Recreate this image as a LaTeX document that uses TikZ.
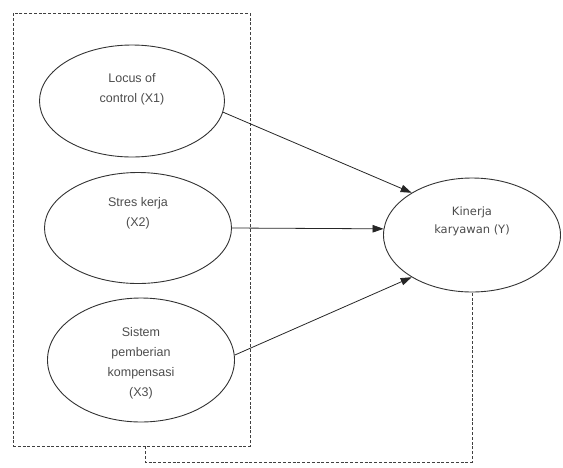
\documentclass[tikz,border=0pt]{standalone}
\usepackage{fontspec}
\setmainfont{Liberation Sans}
\newfontfamily\verd{DejaVu Sans}
\usetikzlibrary{positioning,arrows.meta,shapes.geometric}

\begin{document}
\begin{tikzpicture}[
  x=1pt, y=-1pt,
  var/.style={ellipse, draw=black!80, line width=0.9pt, inner sep=0pt},
  txt/.style={align=center, text=black!70, font=\fontsize{12.5}{20}\selectfont},
  link/.style={draw=black!85, line width=0.8pt, -{Triangle[length=11pt,width=7.5pt]}},
  grpbox/.style={draw=black!75, line width=0.8pt, dash pattern=on 3pt off 1.8pt},
  feedback/.style={draw=black!75, line width=0.8pt, dash pattern=on 3pt off 1.8pt}
]
  \useasboundingbox (0,0) rectangle (563,467);

  % Group of independent variables
  \node[grpbox, minimum width=237pt, minimum height=433pt] (grp) at (131.5,229.5) {};

  % Independent variables
  \node[var, minimum width=185pt, minimum height=112pt,
    label={[txt, yshift=12pt]center:Locus of\\control (X1)}] (x1) at (132,101) {};
  \node[var, minimum width=187pt, minimum height=111pt,
    label={[txt, yshift=15pt]center:Stres kerja\\(X2)}] (x2) at (138,228) {};
  \node[var, minimum width=187pt, minimum height=124pt,
    label={[txt, yshift=-3pt]center:Sistem\\pemberian\\kompensasi\\(X3)}] (x3) at (141,360) {};

  % Dependent variable
  \node[var, minimum width=177pt, minimum height=114pt,
    label={[txt, yshift=14pt, font=\verd\fontsize{11.5}{18}\selectfont]center:Kinerja\\karyawan (Y)}] (y) at (472,235) {};

  % Paths
  \draw[link] (x1.-7) -- (y.145);
  \draw[link] (x2.0) -- (y.176);
  \draw[link] (x3.3) -- (y.215);

  % Simultaneous effect
  \coordinate (fb) at (145,462);
  \draw[feedback] (grp.south -| fb) -- (fb) -| (y.south);
\end{tikzpicture}
\end{document}
